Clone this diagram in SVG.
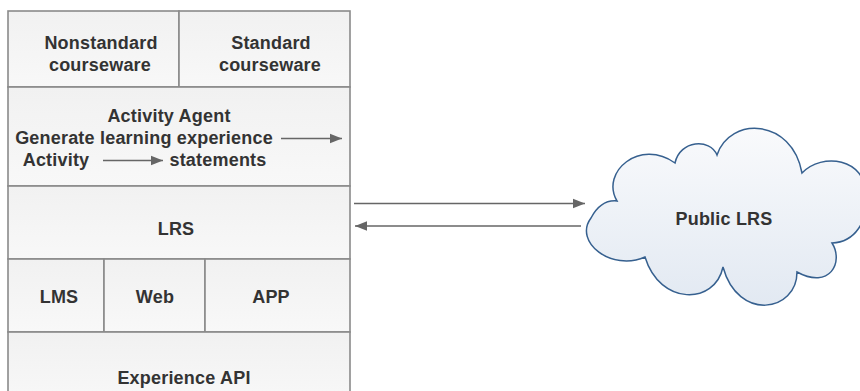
<svg xmlns="http://www.w3.org/2000/svg" width="860" height="391" viewBox="0 0 860 391">
<defs>
<linearGradient id="cell" x1="0" y1="0" x2="0" y2="1"><stop offset="0" stop-color="#f1f1f1"/><stop offset="1" stop-color="#f8f8f8"/></linearGradient>
<linearGradient id="cloudg" x1="0" y1="0" x2="0" y2="1"><stop offset="0" stop-color="#f9fafc"/><stop offset="1" stop-color="#e2e9f2"/></linearGradient>
<marker id="ah" viewBox="0 0 10 10" refX="10" refY="5" markerWidth="12" markerHeight="12" markerUnits="userSpaceOnUse" orient="auto"><path d="M0,1 L10,5 L0,9 z" fill="#666"/></marker>
<marker id="ah2" viewBox="0 0 10 10" refX="10" refY="5" markerWidth="12" markerHeight="12" markerUnits="userSpaceOnUse" orient="auto"><path d="M0,1 L10,5 L0,9 z" fill="#666"/></marker>
</defs>
<style>
.c{fill:url(#cell);stroke:#8a8a8a;stroke-width:1.6}
.t{font-family:"Liberation Sans",Arial,sans-serif;font-weight:bold;font-size:18px;fill:#333;text-anchor:middle;letter-spacing:0.2px}
.l{stroke:#666;stroke-width:1.6;fill:none}
</style>
<rect x="0" y="0" width="860" height="391" fill="#fff"/>
<g id="nonstandard"><rect class="c" x="8" y="11" width="171" height="76"/><text class="t" x="101" y="49">Nonstandard</text><text class="t" x="100" y="71">courseware</text></g>
<g id="standard"><rect class="c" x="179" y="11" width="171" height="76"/><text class="t" x="271" y="49">Standard</text><text class="t" x="270" y="71">courseware</text></g>
<g id="agent"><rect class="c" x="8" y="87" width="342" height="99"/><text class="t" x="169" y="122">Activity Agent</text><text class="t" x="144" y="144">Generate learning experience</text><text class="t" x="56" y="166">Activity</text><text class="t" x="218" y="166">statements</text>
<line class="l" x1="281" y1="138.5" x2="342" y2="138.5" marker-end="url(#ah)"/><line class="l" x1="103" y1="160.5" x2="163" y2="160.5" marker-end="url(#ah)"/></g>
<g id="lrs"><rect class="c" x="8" y="186" width="342" height="73"/><text class="t" x="176" y="235">LRS</text></g>
<g id="lms"><rect class="c" x="8" y="259" width="96" height="73"/><text class="t" x="59" y="303">LMS</text></g>
<g id="web"><rect class="c" x="104" y="259" width="101" height="73"/><text class="t" x="155" y="303">Web</text></g>
<g id="app"><rect class="c" x="205" y="259" width="145" height="73"/><text class="t" x="271" y="303">APP</text></g>
<g id="xapi"><rect class="c" x="8" y="332" width="342" height="70"/><text class="t" x="184" y="384">Experience API</text></g>
<g id="public-lrs"><path d="M617,201 C600,172 640,138 675,163 C680,140 710,138 717,155 C730,116 792,118 802,173 C822,152 866,158 866,195 C868,222 855,242 832,243 C844,262 830,290 797,272 C797,312 738,322 723,267 C715,305 660,306 645,257 C612,272 573,242 591,218 C598,205 607,200 617,201 Z" fill="url(#cloudg)" stroke="#36608f" stroke-width="1.5"/><text class="t" x="724" y="225">Public LRS</text></g>
<g id="connectors">
<line class="l" x1="354" y1="203.5" x2="585" y2="203.5" marker-end="url(#ah2)"/>
<line class="l" x1="581" y1="226" x2="355" y2="226" marker-end="url(#ah2)"/>
</g>
</svg>
